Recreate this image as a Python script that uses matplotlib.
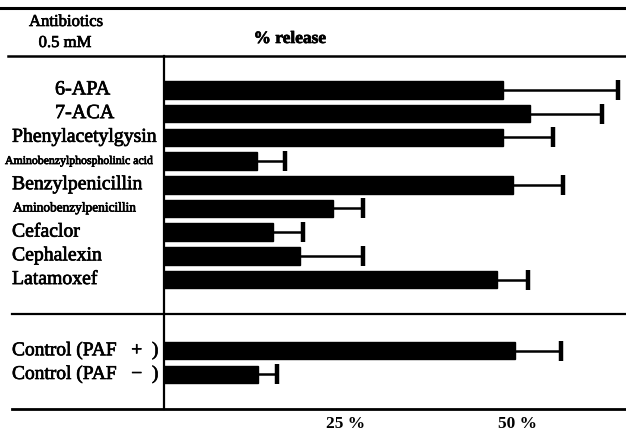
import matplotlib
matplotlib.use("Agg")
import matplotlib.pyplot as plt
import matplotlib.transforms as mtransforms
import matplotlib.patheffects as pe
from matplotlib.lines import Line2D
import numpy as np

# ---- data ----
antibiotics = ["6-APA", "7-ACA", "Phenylacetylgysin", "Aminobenzylphospholinic acid",
               "Benzylpenicillin", "Aminobenzylpenicillin", "Cefaclor", "Cephalexin",
               "Latamoxef"]
antibiotic_release = [49.4, 53.4, 49.4, 13.6, 50.9, 24.6, 15.9, 19.8, 48.5]
antibiotic_err = [16.8, 10.5, 7.3, 4.1, 7.3, 4.4, 4.4, 9.2, 4.5]

controls = ["Control (PAF   +  )", "Control (PAF   \u2212  )"]
control_release = [51.2, 13.7]
control_err = [6.6, 2.8]

xtick_values = [25, 50]
xtick_labels = ["25 %", "50 %"]

W, H = 626, 431
fig = plt.figure(figsize=(W / 100, H / 100), dpi=100)
fig.patch.set_facecolor("white")

def fx(px):
    return px / W

def fy(py):
    return 1 - py / H

heavy = [pe.withStroke(linewidth=0.5, foreground="black")]
serif = "Liberation Serif"

ax_left, ax_right, ax_top, ax_bot = 164, 626, 57, 410
ax = fig.add_axes([fx(ax_left), fy(ax_bot), fx(ax_right - ax_left), (ax_bot - ax_top) / H])

pos_a = np.arange(len(antibiotics))
pos_c = np.arange(len(controls)) + len(antibiotics) + 2

bar_h = 0.74
for pos, vals, errs in [(pos_a, antibiotic_release, antibiotic_err),
                        (pos_c, control_release, control_err)]:
    vals = np.asarray(vals)
    ends = vals + np.asarray(errs)
    ax.barh(pos, vals, height=bar_h, color="black", edgecolor="black")
    ax.hlines(pos, vals, ends, color="black", lw=1.8)
    ax.plot(ends, pos, ls="none", marker="|", ms=15, mew=3.2, color="black")

ax.set_xlim(0, (ax_right - ax_left) / 6.86)
ax.set_ylim(13.46, -1.43)
for s in ["top", "right", "bottom"]:
    ax.spines[s].set_visible(False)
ax.spines["left"].set_linewidth(1.6)
ax.set_yticks([])
ax.set_xticks(xtick_values)
ax.set_xticklabels(xtick_labels, fontsize=12.5, fontweight="bold", family=serif)
ax.tick_params(axis="x", length=0, pad=4)
off = mtransforms.ScaledTranslation(10 / 100, 0, fig.dpi_scale_trans)
for lbl in ax.get_xticklabels():
    lbl.set_transform(lbl.get_transform() + off)

# horizontal rules
for py, x0, lw in [(9, 0, 2.2), (57, 8, 1.8), (315, 12, 1.6), (410, 12, 2.0)]:
    fig.add_artist(Line2D([fx(x0), 1], [fy(py), fy(py)], color="black", lw=lw))

# header text
fig.text(fx(66), fy(23), "Antibiotics", ha="center", va="center", fontsize=12,
         family=serif, path_effects=heavy)
fig.text(fx(65), fy(44), "0.5 mM", ha="center", va="center", fontsize=12,
         family=serif, path_effects=heavy)
fig.text(fx(290), fy(40), "% release", ha="center", va="center", fontsize=12.5,
         fontweight="bold", family=serif, path_effects=heavy)

# row labels
tr = mtransforms.blended_transform_factory(fig.transFigure, ax.transData)
label_style = {
    "6-APA": (fx(55), 14.5),
    "7-ACA": (fx(55), 14.5),
    "Aminobenzylphospholinic acid": (fx(5), 8.5),
    "Aminobenzylpenicillin": (fx(13), 9.6),
}
for name, p in zip(antibiotics, pos_a):
    x, fs = label_style.get(name, (fx(12), 14.2))
    ax.text(x, p, name, transform=tr, ha="left", va="center", fontsize=fs,
            family=serif, path_effects=heavy)
for name, p in zip(controls, pos_c):
    ax.text(fx(12), p, name, transform=tr, ha="left", va="center", fontsize=14,
            family=serif, path_effects=heavy)

fig.savefig("out.png", dpi=100, facecolor="white")
